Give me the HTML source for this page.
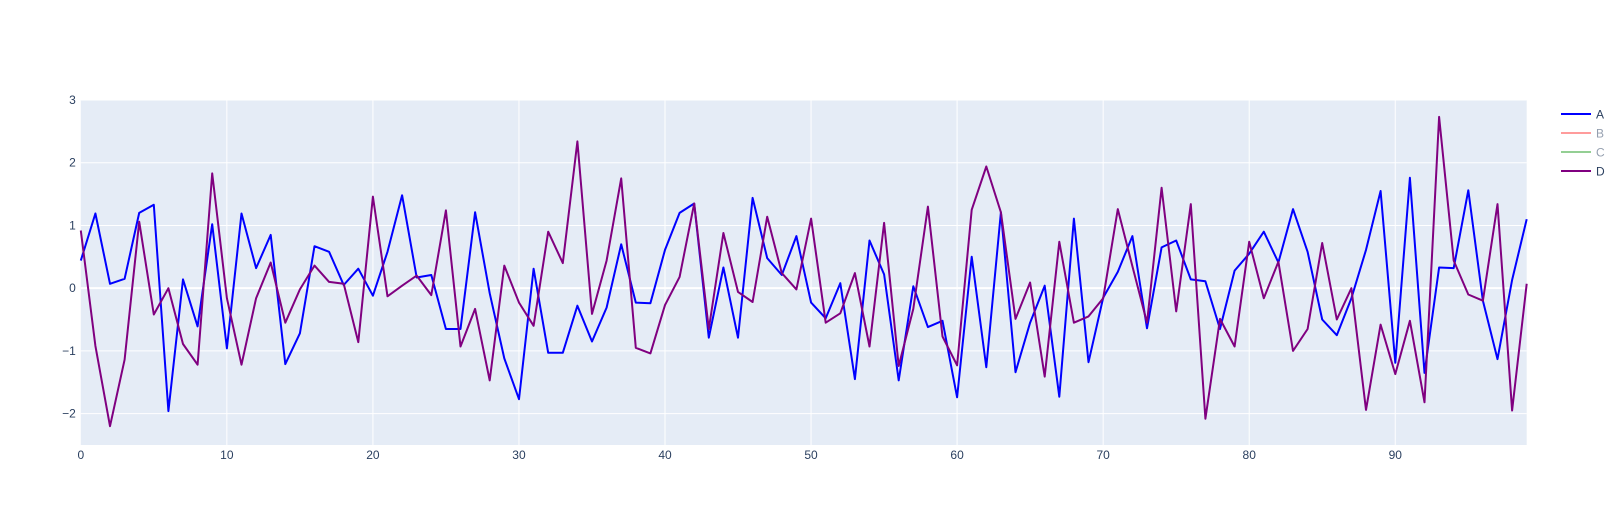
<!DOCTYPE html>
<html><head><meta charset="utf-8"><style>
body{margin:0;background:#fff;}
svg{display:block;font-family:"Liberation Sans","Open Sans",sans-serif;}
</style></head><body>
<svg id="chart" width="1622" height="525" xmlns="http://www.w3.org/2000/svg">
<rect x="0" y="0" width="1622" height="525" fill="#fff"/>
<rect x="80.8" y="100" width="1445.9" height="345" fill="#e5ecf6"/>
<g id="grid"></g>
<g id="lines"></g>
<g id="ticks"></g>
<g id="legend">
  <g><line x1="1561" y1="114" x2="1591" y2="114" stroke="#0000ff" stroke-width="2"/><text x="1596" y="118.5" font-size="12" fill="#2a3f5f">A</text></g>
  <g opacity="0.5"><line x1="1561" y1="133" x2="1591" y2="133" stroke="#ff3b3b" stroke-width="2"/><text x="1596" y="137.5" font-size="12" fill="#2a3f5f">B</text></g>
  <g opacity="0.5"><line x1="1561" y1="152" x2="1591" y2="152" stroke="#2ca02c" stroke-width="2"/><text x="1596" y="156.5" font-size="12" fill="#2a3f5f">C</text></g>
  <g><line x1="1561" y1="171" x2="1591" y2="171" stroke="#800080" stroke-width="2"/><text x="1596" y="175.5" font-size="12" fill="#2a3f5f">D</text></g>
</g>
</svg>
<script>
const seriesA = [0.44,1.19,0.07,0.15,1.2,1.33,-1.96,0.14,-0.61,1.02,-0.96,1.19,0.32,0.85,-1.21,-0.72,0.67,0.58,0.05,0.31,-0.12,0.58,1.48,0.17,0.21,-0.65,-0.65,1.21,-0.08,-1.12,-1.77,0.31,-1.03,-1.03,-0.28,-0.85,-0.31,0.7,-0.23,-0.24,0.61,1.2,1.35,-0.79,0.33,-0.79,1.44,0.48,0.21,0.83,-0.23,-0.48,0.08,-1.45,0.76,0.22,-1.47,0.03,-0.62,-0.52,-1.74,0.5,-1.26,1.21,-1.34,-0.55,0.04,-1.73,1.11,-1.18,-0.15,0.26,0.83,-0.64,0.65,0.76,0.14,0.11,-0.65,0.28,0.55,0.9,0.41,1.26,0.58,-0.5,-0.75,-0.16,0.61,1.55,-1.19,1.76,-1.35,0.33,0.32,1.56,-0.2,-1.13,0.13,1.1];
const seriesD = [0.92,-0.92,-2.2,-1.14,1.06,-0.42,0.0,-0.89,-1.22,1.83,-0.16,-1.22,-0.16,0.41,-0.55,-0.02,0.36,0.1,0.07,-0.86,1.46,-0.13,0.04,0.2,-0.11,1.24,-0.93,-0.33,-1.47,0.36,-0.23,-0.6,0.9,0.4,2.34,-0.41,0.44,1.75,-0.95,-1.04,-0.27,0.18,1.35,-0.65,0.88,-0.06,-0.22,1.14,0.24,-0.02,1.11,-0.55,-0.4,0.24,-0.93,1.04,-1.24,-0.33,1.3,-0.77,-1.23,1.25,1.94,1.21,-0.49,0.09,-1.41,0.74,-0.55,-0.45,-0.16,1.26,0.35,-0.55,1.6,-0.37,1.34,-2.08,-0.49,-0.93,0.74,-0.16,0.42,-1.0,-0.65,0.72,-0.5,0.0,-1.94,-0.58,-1.37,-0.52,-1.82,2.73,0.44,-0.1,-0.2,1.34,-1.95,0.07];
const xTicks = [0,10,20,30,40,50,60,70,80,90];
const yTicks = [-2,-1,0,1,2,3];

const NS="http://www.w3.org/2000/svg";
const X0=80.8, X1=1526.7, Y0=445, Y1=100;
const xMin=0, xMax=99, yMin=-2.5, yMax=3.0;
function xs(v){return X0+(v-xMin)/(xMax-xMin)*(X1-X0);}
function ys(v){return Y0-(v-yMin)/(yMax-yMin)*(Y0-Y1);}
function mk(tag,attrs,parent){const e=document.createElementNS(NS,tag);for(const k in attrs)e.setAttribute(k,attrs[k]);parent.appendChild(e);return e;}
const grid=document.getElementById('grid'), ticks=document.getElementById('ticks'), lines=document.getElementById('lines');
xTicks.forEach(t=>{
  const l=mk('line',{x1:xs(t),x2:xs(t),y1:Y1,y2:Y0,stroke:'#fff','stroke-width':t===0?0:1},grid);
  
  
  const tx=mk('text',{x:xs(t),y:Y0+14,'font-size':12,fill:'#2a3f5f','text-anchor':'middle'},ticks);
  tx.textContent=t;
  
  
});
yTicks.forEach(t=>{
  const l=mk('line',{x1:X0,x2:X1,y1:ys(t),y2:ys(t),stroke:'#fff','stroke-width':t===0?2:1},grid);
  
  
  const tx=mk('text',{x:X0-5,y:ys(t)+4,'font-size':12,fill:'#2a3f5f','text-anchor':'end'},ticks);
  tx.textContent=t<0?'\u2212'+Math.abs(t):t;
  
  
});
function drawLine(arr,color,name){
  const pts=arr.map((v,i)=>xs(i).toFixed(1)+','+ys(v).toFixed(1)).join(' ');
  const p=mk('polyline',{points:pts,fill:'none',stroke:color,'stroke-width':2,'stroke-linejoin':'round'},lines);
  
  
}
drawLine(seriesA,'#0000ff','series-a-line');
drawLine(seriesD,'#800080','series-d-line');
</script>
</body></html>
